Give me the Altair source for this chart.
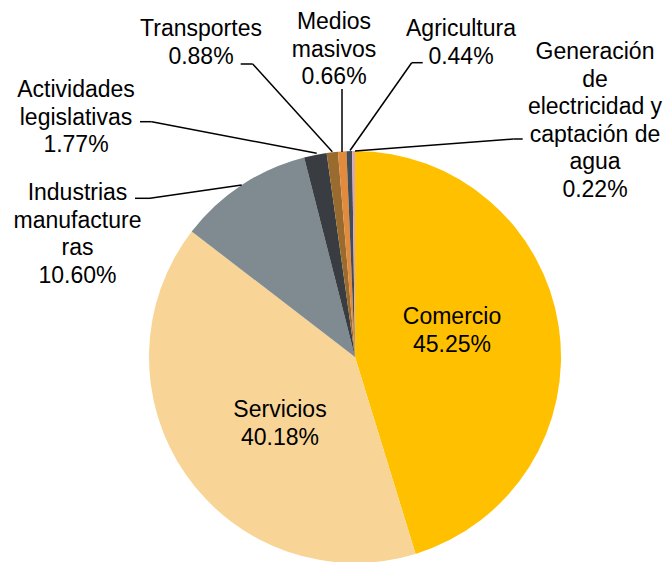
import altair as alt
import pandas as pd

# ---- data ----
categories = [
    "Comercio",
    "Servicios",
    "Industrias\nmanufacture\nras",
    "Actividades\nlegislativas",
    "Transportes",
    "Medios\nmasivos",
    "Agricultura",
    "Generación\nde\nelectricidad y\ncaptación de\nagua",
]
percents = [45.25, 40.18, 10.60, 1.77, 0.88, 0.66, 0.44, 0.22]
colors = ["#FFC000", "#F8D497", "#7F8A91", "#393D41",
          "#9A6B2E", "#E38B3D", "#434B57", "#D7A8BC"]

# ---- layout (annotation placement: centre x, first-line y) ----
label_x = [452, 280, 77.5, 76, 201, 334, 461, 595]
label_y = [317, 410, 193, 90, 29, 22, 29, 52]

# leader lines: (x1, y1, x2, y2) segments
leaders = [
    (135, 198.3, 150, 198.3), (150, 198.3, 241.7, 185),      # Industrias
    (140, 121.7, 151.7, 121.7), (151.7, 121.7, 316.7, 153.3),  # Actividades
    (240.7, 64, 252.7, 64), (252.7, 64, 332.3, 151.7),      # Transportes
    (342, 89, 342, 152),                                     # Medios
    (422.7, 62.7, 411.7, 62.7), (411.7, 62.7, 350, 150.5),  # Agricultura
    (522.7, 139, 513.3, 139), (513.3, 139, 355, 151),       # Generación
]

df = pd.DataFrame({
    "cat": categories,
    "pct": percents,
    "idx": list(range(len(categories))),
    "lx": label_x,
    "ly": label_y,
})
df["label"] = df["cat"] + "\n" + df["pct"].map(lambda v: f"{v:.2f}%")

lines_df = pd.DataFrame(leaders, columns=["x1", "y1", "x2", "y2"])

CX, CY, R = 355, 357, 206

pie = alt.Chart(df).mark_arc(radius=R, strokeWidth=0).encode(
    theta=alt.Theta("pct:Q", stack=True),
    order=alt.Order("idx:Q", sort="ascending"),
    color=alt.Color("cat:N", scale=alt.Scale(domain=categories, range=colors), legend=None),
    x=alt.value(CX),
    y=alt.value(CY),
)

rules = alt.Chart(lines_df).mark_rule(color="#000000", strokeWidth=1.5).encode(
    x=alt.X("x1:Q", scale=None),
    y=alt.Y("y1:Q", scale=None),
    x2="x2:Q",
    y2="y2:Q",
)

texts = alt.Chart(df).mark_text(
    font="Liberation Sans", fontSize=23, lineBreak="\n", lineHeight=27.5,
    align="center", baseline="middle", color="#000000",
).encode(
    x=alt.X("lx:Q", scale=None),
    y=alt.Y("ly:Q", scale=None),
    text="label:N",
)

chart = alt.layer(pie, rules, texts).properties(
    width=668, height=562, padding=0, autosize=alt.AutoSizeParams(type="none"),
    background="white",
).configure_view(stroke=None)

chart.save("out.html", embed_options={"renderer": "svg", "actions": False})
